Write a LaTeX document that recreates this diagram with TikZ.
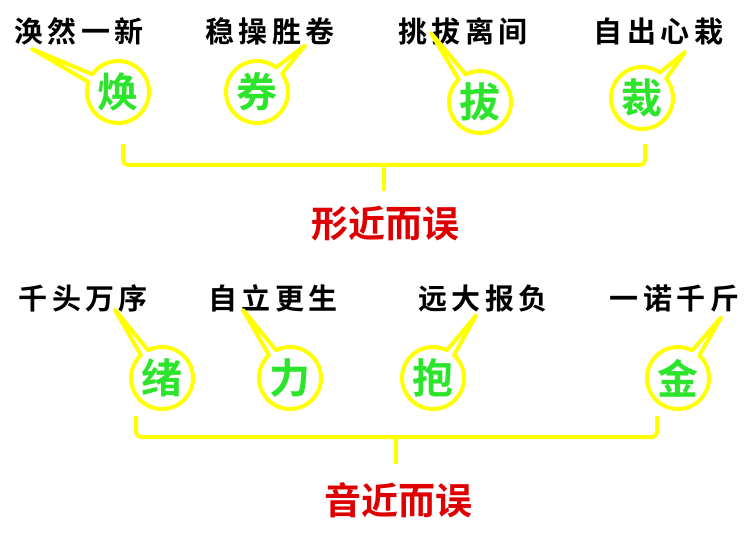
\documentclass[tikz,border=0pt]{standalone}
\usepackage{fontspec}
\newfontfamily\cjk{Noto Sans CJK SC}[BoldFont={Noto Sans CJK SC Bold}]
\newfontfamily\cjkwide{Noto Sans CJK SC}[BoldFont={Noto Sans CJK SC Bold}, LetterSpace=15]
\usetikzlibrary{shapes.callouts,calc}

\definecolor{hlyellow}{RGB}{255,255,0}
\definecolor{chargreen}{RGB}{45,228,45}
\definecolor{typored}{RGB}{222,0,0}

\begin{document}
\begin{tikzpicture}[x=1pt, y=-1pt, line join=round]
  \tikzset{
    idiom/.style={font=\cjkwide\bfseries\fontsize{29}{30}\selectfont, inner sep=0pt},
    bubble/.style={ellipse callout, draw=hlyellow, line width=4pt,
      minimum width=62pt, minimum height=62pt, inner sep=0pt,
      callout pointer arc=16, text=chargreen,
      font=\cjk\bfseries\fontsize{41}{42}\selectfont},
    bracket/.style={draw=hlyellow, line width=4pt, rounded corners=5pt},
    kind/.style={font=\cjk\bfseries\fontsize{37}{38}\selectfont,
      text=typored, inner sep=0pt}
  }
  \useasboundingbox (0,0) rectangle (746,534);

  % 形近而误
  \node[idiom] (huan) at (79,31.5) {涣然一新};
  \node[idiom] (juan) at (270,31.5) {稳操胜卷};
  \node[idiom] (ba) at (463,31.5) {挑拔离间};
  \node[idiom] (cai) at (658.5,31.5) {自出心栽};

  \node[bubble, callout absolute pointer={($(huan)+(-47,17.5)$)}] (huanfix) at (118,92) {焕};
  \node[bubble, callout absolute pointer={($(juan)+(35,14)$)}] (juanfix) at (257,92) {券};
  \node[bubble, callout absolute pointer={($(ba)+(-32,1.5)$)}] (bafix) at (480,102) {拔};
  \node[bubble, callout absolute pointer={($(cai)+(26.5,20.5)$)}] (caifix) at (642,98) {裁};

  \coordinate (xleft) at (123,144);
  \coordinate (xmid) at (384,165);
  \coordinate (xright) at (645,144);
  \coordinate (xtick) at (384,191);
  \draw[bracket] (xleft) |- (xmid) -| (xright);
  \draw[bracket] (xmid) -- (xtick);
  \node[kind] (xing) at (385,224) {形近而误};

  % 音近而误
  \node[idiom] (xu) at (83.5,298.5) {千头万序};
  \node[idiom] (li) at (273,298.5) {自立更生};
  \node[idiom] (bao) at (483,298.5) {远大报负};
  \node[idiom] (jin) at (674.5,298.5) {一诺千斤};

  \node[bubble, callout absolute pointer={($(xu)+(31.5,11.5)$)}] (xufix) at (162,378) {绪};
  \node[bubble, callout absolute pointer={($(li)+(-30,11.5)$)}] (lifix) at (290,378) {力};
  \node[bubble, callout absolute pointer={($(bao)+(-7,17)$)}] (baofix) at (433,378) {抱};
  \node[bubble, callout absolute pointer={($(jin)+(46.5,19)$)}] (jinfix) at (678,378) {金};

  \coordinate (yleft) at (136,416);
  \coordinate (ymid) at (396,437);
  \coordinate (yright) at (657,416);
  \coordinate (ytick) at (396,464);
  \draw[bracket] (yleft) |- (ymid) -| (yright);
  \draw[bracket] (ymid) -- (ytick);
  \node[kind] (yin) at (398,500) {音近而误};
\end{tikzpicture}
\end{document}
